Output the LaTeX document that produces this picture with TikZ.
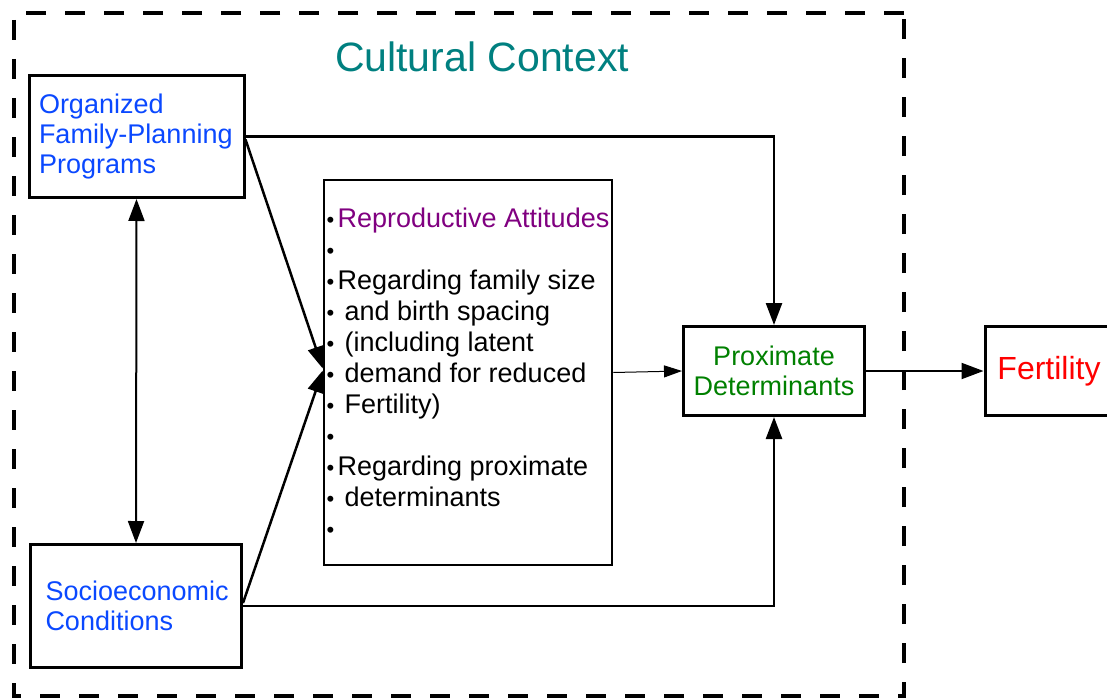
\documentclass[tikz,border=0pt]{standalone}
\usepackage{fontspec}
\setmainfont{Liberation Sans}
\usetikzlibrary{arrows.meta,calc}
\definecolor{ctxteal}{RGB}{0,128,128}
\definecolor{srcblue}{RGB}{10,72,255}
\definecolor{attpurple}{RGB}{128,0,128}
\definecolor{proxgreen}{RGB}{0,128,0}
\definecolor{fertred}{RGB}{255,0,0}
% small list bullet followed by a fixed gap
\newcommand\bdot{\makebox[11pt][l]{\fontsize{22}{22}\selectfont\raisebox{0pt}{•}}}
\begin{document}
\begin{tikzpicture}[x=1pt,y=-1pt,
  box/.style={draw,line width=3pt,inner sep=0pt},
  tip/.tip={Triangle[length=22pt,width=16pt]},
  conn/.style={line width=2.5pt,-tip},
  thinconn/.style={line width=1pt,-{Triangle[length=18pt,width=12pt]}},
  frame/.style={line width=3.5pt,dash pattern=on 20pt off 19pt},
  txt/.style={font=\fontsize{27}{30}\selectfont}]
\useasboundingbox (0,0) rectangle (1107,698);
\clip (0,0) rectangle (1107,698);

% outer dashed context frame and its title
\draw[frame] (904,13) -- (14,13) -- (14,696) -- (904,696) -- cycle;
\node[text=ctxteal,font=\fontsize{41}{41}\selectfont] (title) at (482,57) {Cultural Context};

% boxes
\node[box,txt,text=srcblue,align=left,minimum height=122pt,text width=195pt,inner xsep=10pt]
  (ofp) at (136.5,136.5) {Organized\\Family-Planning\\Programs};
\node[box,txt,text=srcblue,align=left,minimum height=123pt,text width=181pt,inner xsep=15pt]
  (sec) at (136,606) {Socioeconomic\\Conditions};
\node[draw,line width=2.5pt,font=\fontsize{27}{31}\selectfont,align=left,
  minimum width=288pt,minimum height=385pt,inner sep=0pt]
  (rep) at (468,372.5) {%
  \bdot\textcolor{attpurple}{Reproductive Attitudes}\\
  \bdot\\
  \bdot Regarding family size\\
  \bdot\hspace{7pt}and birth spacing\\
  \bdot\hspace{7pt}(including latent\\
  \bdot\hspace{7pt}demand for reduced\\
  \bdot\hspace{7pt}Fertility)\\
  \bdot\\
  \bdot Regarding proximate\\
  \bdot\hspace{7pt}determinants\\
  \bdot};
\node[box,txt,text=proxgreen,align=center,minimum width=181pt,minimum height=89pt]
  (prox) at (774,371) {Proximate\\Determinants};
\node[box,text=fertred,font=\fontsize{32}{32}\selectfont,minimum width=128pt,minimum height=89pt]
  (fert) at (1049,371) {Fertility};

% connectors
\draw[conn] (ofp.east) -| (prox.north);
\draw[conn] (sec.east) -| (prox.south);
\draw[conn] ($(ofp.east)+(0,3)$) -- ($(rep.west)+(0,-4)$);
\draw[conn] ($(sec.east)+(0,-3)$) -- ($(rep.west)+(0,-2)$);
\draw[line width=2pt,tip-tip] (ofp.south) -- (sec.north);
\draw[thinconn] (rep.east) -- (prox.west);
\draw[conn,line width=2pt] (prox.east) -- (fert.west);
\end{tikzpicture}
\end{document}
